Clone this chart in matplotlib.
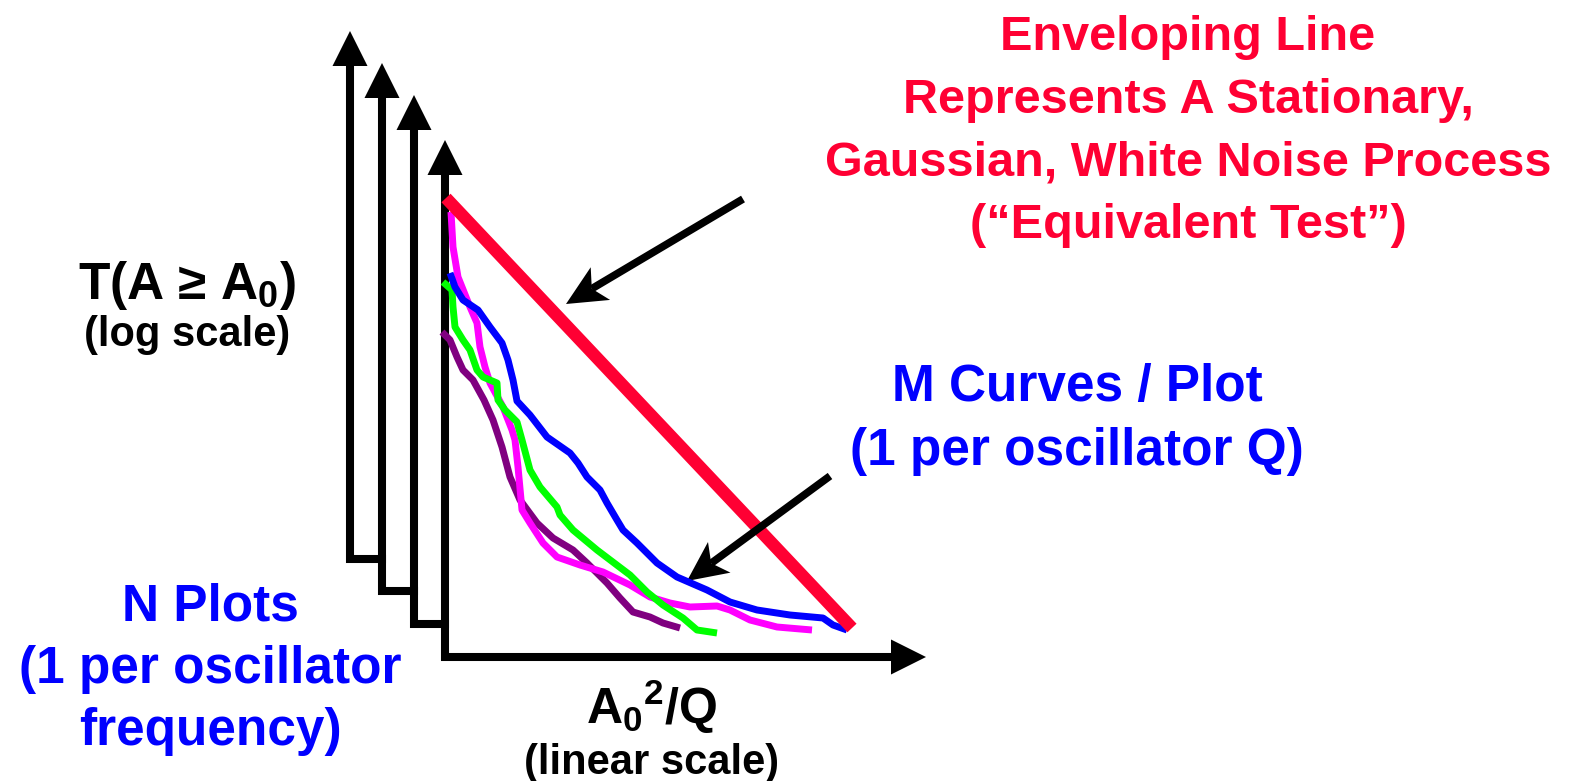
import matplotlib.pyplot as plt
import numpy as np

plt.rcParams['font.family'] = ['Liberation Sans', 'DejaVu Sans']
plt.rcParams['font.weight'] = 'bold'
plt.rcParams['mathtext.fontset'] = 'custom'
plt.rcParams['mathtext.rm'] = 'Liberation Sans:bold'
plt.rcParams['mathtext.it'] = 'Liberation Sans:bold'
plt.rcParams['mathtext.bf'] = 'Liberation Sans:bold'

# stacked axes (pixel space of the sketch)
axis_x = [350, 382, 414, 445]
axis_tip = [31, 63, 95, 140]
axis_bottom = [559, 591, 624, 657]
xaxis_tip = 926

# enveloping line
env_x = [446, 852]
env_y = [198, 628]

# curves
magenta_x = [451, 453, 458, 470, 477, 480, 485, 490, 503, 512, 515, 518, 522, 530, 543, 557, 580,
             603, 630, 650, 670, 690, 717, 730, 750, 777, 812]
magenta_y = [212, 247, 277, 307, 323, 347, 367, 383, 407, 430, 440, 467, 510, 523, 543, 557, 565,
             572, 585, 597, 603, 607, 606, 610, 620, 627, 630]

blue_x = [450, 455, 463, 478, 490, 502, 508, 513, 517, 530, 547, 570, 578, 587, 600, 607, 617,
          623, 637, 657, 677, 707, 730, 757, 790, 823, 833, 847]
blue_y = [273, 287, 300, 310, 327, 343, 360, 380, 401, 415, 437, 453, 463, 477, 490, 503, 520,
          530, 543, 563, 577, 590, 602, 610, 615, 618, 625, 630]

green_x = [443, 452, 453, 455, 463, 470, 477, 483, 497, 498, 505, 517, 522, 530, 540, 557, 560,
           573, 597, 630, 647, 663, 683, 697, 717]
green_y = [282, 290, 307, 327, 340, 350, 370, 377, 383, 400, 410, 422, 440, 470, 487, 507, 515,
           530, 550, 575, 592, 605, 618, 630, 633]

purple_x = [442, 450, 457, 463, 473, 484, 493, 502, 510, 520, 537, 553, 573, 587, 607, 620, 633,
            650, 663, 680]
purple_y = [332, 340, 357, 370, 380, 400, 420, 447, 477, 500, 523, 538, 550, 563, 583, 598, 612,
            617, 623, 628]

# pointer arrows: (tail, tip)
arrows = [((743, 199), (566, 304)), ((830, 476), (687, 581))]

title_lines = ['Enveloping Line', 'Represents A Stationary,',
               'Gaussian, White Noise Process', '(\u201cEquivalent Test\u201d)']
m_lines = ['M Curves / Plot', '(1 per oscillator Q)']
n_lines = ['N Plots', '(1 per oscillator', 'frequency)']

RED = '#FF0033'
BLUE = '#0000FF'

fig = plt.figure(figsize=(15.85, 7.81), dpi=100)
ax = fig.add_axes([0, 0, 1, 1])
ax.set_xlim(0, 1585)
ax.set_ylim(781, 0)
ax.axis('off')

# staircase of axes
head = 35
for i in range(4):
    x = axis_x[i]
    nxt = axis_x[i + 1] if i < 3 else xaxis_tip - head
    ax.plot([x, x, nxt], [axis_tip[i] + head - 2, axis_bottom[i], axis_bottom[i]],
            color='black', lw=5.8, solid_joinstyle='miter', solid_capstyle='projecting')
    ax.fill([x - head / 2, x + head / 2, x], [axis_tip[i] + head, axis_tip[i] + head, axis_tip[i]],
            color='black', lw=0)
ax.fill([xaxis_tip - head, xaxis_tip - head, xaxis_tip],
        [axis_bottom[3] - head / 2, axis_bottom[3] + head / 2, axis_bottom[3]], color='black', lw=0)

# curves
for cx, cy, col in [(purple_x, purple_y, '#800080'), (magenta_x, magenta_y, '#FF00FF'),
                    (green_x, green_y, '#00FF00'), (blue_x, blue_y, BLUE)]:
    ax.plot(cx, cy, color=col, lw=5, solid_capstyle='butt', solid_joinstyle='round')

ax.plot(env_x, env_y, color=RED, lw=9, solid_capstyle='butt')

# pointer arrows with notched heads
for tail, tip in arrows:
    tail = np.array(tail, float)
    tip = np.array(tip, float)
    u = (tip - tail) / np.hypot(*(tip - tail))
    n = np.array([-u[1], u[0]])
    back = tip - 40 * u
    notch = tip - 30 * u
    ax.plot([tail[0], notch[0]], [tail[1], notch[1]], color='black', lw=5.5, solid_capstyle='butt')
    pts = np.array([tip, back + 19 * n, notch, back - 19 * n])
    ax.fill(pts[:, 0], pts[:, 1], color='black', lw=0)

# text
for k, s in enumerate(title_lines):
    ax.text(1188, 38 + 62.5 * k, s, color=RED, fontsize=35, ha='center', va='center')
for k, s in enumerate(m_lines):
    ax.text(1077, 388 + 63 * k, s, color=BLUE, fontsize=37, ha='center', va='center')
for k, s in enumerate(n_lines):
    ax.text(210, 607 + 62.5 * k, s, color=BLUE, fontsize=37, ha='center', va='center')
ax.text(187, 285, 'T(A \u2265 A$_0$)', color='black', fontsize=37, ha='center', va='center')
ax.text(187, 335, '(log scale)', color='black', fontsize=30, ha='center', va='center')
ax.text(652, 707, 'A$_0$$^2$/Q', color='black', fontsize=36, ha='center', va='center')
ax.text(652, 763, '(linear scale)', color='black', fontsize=30, ha='center', va='center')

fig.savefig('out.png', dpi=100)
